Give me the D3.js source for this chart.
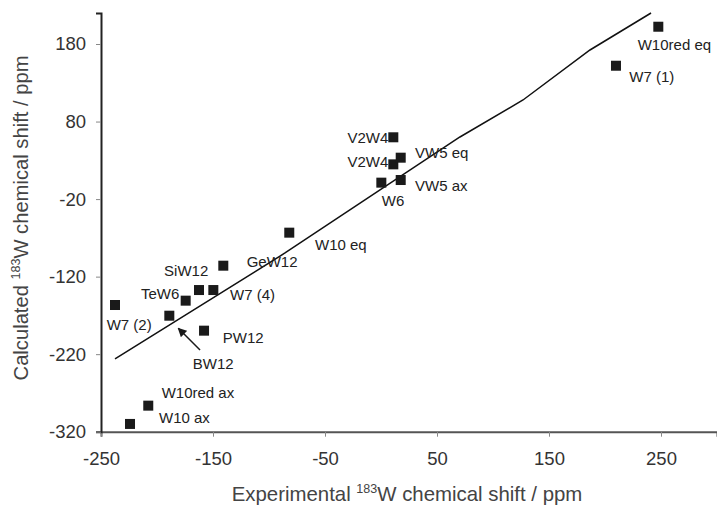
<!DOCTYPE html>
<html>
<head>
<meta charset="utf-8">
<script src="https://cdn.jsdelivr.net/npm/d3@7"></script>
<style>
  html, body { margin: 0; padding: 0; background: #fff; }
  svg { display: block; font-family: "Liberation Sans", Arial, sans-serif; }
</style>
</head>
<body>
<svg id="chart" width="717" height="508"></svg>
<script>
// ---- data ----
const compounds = ["W10red eq", "W7 (1)", "V2W4", "V2W4", "VW5 eq", "VW5 ax", "W6", "W10 eq",
  "GeW12", "SiW12", "W7 (4)", "TeW6", "W7 (2)", "BW12", "PW12", "W10red ax", "W10 ax"];
const experimental = [247.6, 209.8, 11, 11, 17.6, 17.6, 0.3, -81.9,
  -140.8, -162.5, -149.7, -174.4, -237.5, -189, -158, -207.8, -224.1];
const calculated = [202.3, 152, 59.7, 24.8, 33.4, 4.6, 1.2, -63.3,
  -105.9, -137.3, -137.3, -151, -156.6, -170.4, -189.7, -286.4, -310];
// correlation line (as drawn)
const lineX = [-237.5, -85.7, 70.5, 126.8, 186.6, 241.1];
const lineY = [-226.2, -89.5, 60.1, 107.8, 172.3, 220];
const xTicks = [-250, -150, -50, 50, 150, 250];
const yTicks = [-320, -220, -120, -20, 80, 180];

// ---- layout (label placement, px offsets from marker) ----
const labelPlacement = [
  [-20.6, 23.3, "start"], [13.3, 16, "start"], [-5, 5.4, "end"], [-5, 2.2, "end"],
  [14.3, 0.6, "start"], [14.3, 11, "start"], [0.4, 23.3, "start"], [25.7, 17.3, "start"],
  [23.4, 1, "start"], [9.3, -14, "end"], [16.7, 10, "start"], [-6.4, -1.2, "end"],
  [-8.3, 24.5, "start"], [23.4, 53.6, "start"], [18.7, 12, "start"], [13.4, -7.7, "start"],
  [29, -0.7, "start"]
];

const svg = d3.select("#chart");
const plotL = 101, plotR = 717, plotT = 13, plotB = 431.7;
const x = d3.scaleLinear().domain([-250, 300]).range([plotL, plotR]);
const y = d3.scaleLinear().domain([-320, 220]).range([plotB, plotT]);
const fmt = d => String(d);

// arrow marker
svg.append("defs").append("marker")
  .attr("id", "arrow").attr("viewBox", "0 0 10 10")
  .attr("refX", 9).attr("refY", 5)
  .attr("markerWidth", 9).attr("markerHeight", 9)
  .attr("markerUnits", "userSpaceOnUse")
  .attr("orient", "auto")
  .append("path").attr("d", "M0,0 L10,5 L0,10 Z").attr("fill", "#1a1a1a");

// x axis
const xAxis = svg.append("g")
  .attr("transform", `translate(0,${plotB})`)
  .call(d3.axisBottom(x).tickValues(xTicks).tickSize(5).tickPadding(15).tickFormat(fmt));
xAxis.select(".domain").attr("stroke", "#555").attr("stroke-width", 2);
xAxis.selectAll(".tick line").attr("stroke", "#888").attr("stroke-width", 1);
xAxis.selectAll(".tick text").attr("fill", "#333").style("font-size", "18.5px")
  .style("font-family", "'Liberation Sans', Arial, sans-serif");

// y axis
const yAxis = svg.append("g")
  .attr("transform", `translate(${plotL},0)`)
  .call(d3.axisLeft(y).tickValues(yTicks).tickSize(5).tickPadding(10).tickFormat(fmt));
yAxis.select(".domain").attr("stroke", "#222").attr("stroke-width", 2);
yAxis.selectAll(".tick line").attr("stroke", "#888").attr("stroke-width", 1);
yAxis.selectAll(".tick text").attr("fill", "#333").style("font-size", "18.5px")
  .style("font-family", "'Liberation Sans', Arial, sans-serif");

// fit line
const linePts = lineX.map((d, i) => [d, lineY[i]]);
svg.append("path")
  .datum(linePts)
  .attr("fill", "none").attr("stroke", "#111").attr("stroke-width", 1.5)
  .attr("d", d3.line().x(d => x(d[0])).y(d => y(d[1])));

// points
const pts = compounds.map((c, i) => ({ c, ex: experimental[i], ca: calculated[i], p: labelPlacement[i] }));
svg.append("g").selectAll("rect").data(pts).join("rect")
  .attr("x", d => x(d.ex) - 5).attr("y", d => y(d.ca) - 5)
  .attr("width", 10).attr("height", 10).attr("fill", "#1a1a1a");

// labels
svg.append("g").selectAll("text").data(pts).join("text")
  .attr("x", d => x(d.ex) + d.p[0]).attr("y", d => y(d.ca) + d.p[1])
  .attr("text-anchor", d => d.p[2])
  .attr("fill", "#222").style("font-size", "15px")
  .text(d => d.c);

// BW12 arrow
const bw = pts.find(d => d.c === "BW12");
svg.append("line")
  .attr("x1", x(bw.ex) + 30.7).attr("y1", y(bw.ca) + 34.3)
  .attr("x2", x(bw.ex) + 9).attr("y2", y(bw.ca) + 12.6)
  .attr("stroke", "#1a1a1a").attr("stroke-width", 1.5)
  .attr("marker-end", "url(#arrow)");

// axis titles
const xt = svg.append("text")
  .attr("x", 407).attr("y", 501).attr("text-anchor", "middle")
  .attr("fill", "#444").style("font-size", "20.4px");
xt.append("tspan").text("Experimental ");
xt.append("tspan").attr("dy", -8).style("font-size", "12.5px").text("183");
xt.append("tspan").attr("dy", 8).text("W chemical shift / ppm");

const yt = svg.append("text")
  .attr("transform", `translate(27.5,218) rotate(-90)`).attr("text-anchor", "middle")
  .attr("fill", "#444").style("font-size", "20.2px");
yt.append("tspan").text("Calculated ");
yt.append("tspan").attr("dy", -8).style("font-size", "12.5px").text("183");
yt.append("tspan").attr("dy", 8).text("W chemical shift / ppm");
</script>
</body>
</html>
